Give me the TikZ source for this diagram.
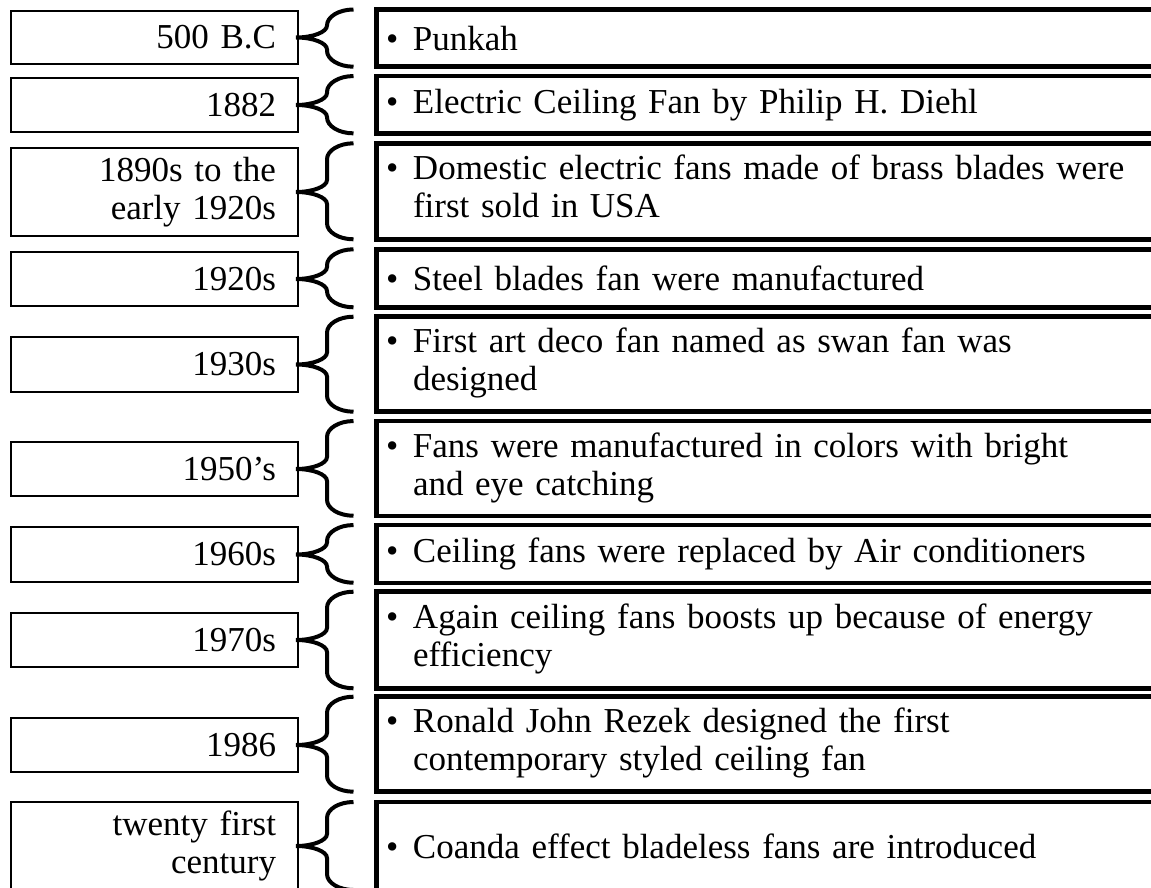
\documentclass[tikz,border=0pt]{standalone}
\usepackage{fontspec}
\setmainfont{Liberation Serif}
\usetikzlibrary{calc}
\newcommand\diagfont{\fontsize{35}{38}\selectfont}
\newcommand\itm[2]{\begin{tabular}{@{}l@{}l@{}}\makebox[25pt][l]{\hspace{-2pt}\textbullet}&#1\\ &#2\end{tabular}}
\newcommand\itmone[1]{\makebox[25pt][l]{\hspace{-2pt}\textbullet}#1}
\newcommand\brc[2]{%
 \draw[bracestyle] let \p1=(#1.east), \p2=(#2.north west), \p3=(#2.south west) in
 (\x2-23pt,\y2) .. controls (\x2-37.6pt,\y2) and (\x1+29pt,\y2-7.2pt) .. (\x1+29pt,\y2-16pt)
 -- (\x1+29pt,\y1+12pt) .. controls (\x1+29pt,\y1+5.4pt) and (\x1+15pt,\y1) .. (\x1-2pt,\y1)
 .. controls (\x1+15pt,\y1) and (\x1+29pt,\y1-5.4pt) .. (\x1+29pt,\y1-12pt)
 -- (\x1+29pt,\y3+16pt) .. controls (\x1+29pt,\y3+7.2pt) and (\x2-37.6pt,\y3) .. (\x2-23pt,\y3);}
\begin{document}
\begin{tikzpicture}[x=1pt,y=-1pt,
 lbox/.style={draw, line width=1.6pt, outer sep=0pt, inner xsep=22pt, inner ysep=0pt, text width=243pt, align=right, font=\diagfont},
 rbox/.style={draw, line width=4.5pt, outer sep=0pt, inner xsep=11.5pt, inner ysep=0pt, text width=777pt, align=left, font=\diagfont, anchor=west},
 bracestyle/.style={line width=4pt}]
\useasboundingbox (0,0) rectangle (1151,888);
\clip (0,0) rectangle (1151,888);
% left boxes
\node[lbox, minimum height=53pt] (L1) at (154.5,37.5) {500 B.C};
\node[lbox, minimum height=54pt] (L2) at (154.5,105) {1882};
\node[lbox, minimum height=88pt] (L3) at (154.5,192) {1890s to the\\early 1920s};
\node[lbox, minimum height=54pt] (L4) at (154.5,279) {1920s};
\node[lbox, minimum height=55pt] (L5) at (154.5,364.5) {1930s};
\node[lbox, minimum height=54pt] (L6) at (154.5,469) {1950’s};
\node[lbox, minimum height=55pt] (L7) at (154.5,554.5) {1960s};
\node[lbox, minimum height=54pt] (L8) at (154.5,640) {1970s};
\node[lbox, minimum height=54pt] (L9) at (154.5,745) {1986};
\node[lbox, minimum height=88pt] (L10) at (154.5,846) {twenty first\\century};
% right boxes
\node[rbox, minimum height=57.2pt] (R1) at (376.5,38.1) {\itmone{Punkah}};
\node[rbox, minimum height=57.3pt] (R2) at (376.5,104.7) {\itmone{Electric Ceiling Fan by Philip H. Diehl}};
\node[rbox, minimum height=96pt] (R3) at (376.5,191.3) {\itm{Domestic electric fans made of brass blades were}{first sold in USA}};
\node[rbox, minimum height=58pt] (R4) at (376.5,278.3) {\itmone{Steel blades fan were manufactured}};
\node[rbox, minimum height=95pt] (R5) at (376.5,364.2) {\itm{First art deco fan named as swan fan was}{designed}};
\node[rbox, minimum height=94.7pt] (R6) at (376.5,468.4) {\itm{Fans were manufactured in colors with bright}{and eye catching}};
\node[rbox, minimum height=57.7pt] (R7) at (376.5,553.9) {\itmone{Ceiling fans were replaced by Air conditioners}};
\node[rbox, minimum height=96.6pt] (R8) at (376.5,640) {\itm{Again ceiling fans boosts up because of energy}{efficiency}};
\node[rbox, minimum height=95pt] (R9) at (376.5,744.2) {\itm{Ronald John Rezek designed the first}{contemporary styled ceiling fan}};
\node[rbox, minimum height=88pt] (R10) at (376.5,846) {\itmone{Coanda effect bladeless fans are introduced}};
% braces
\brc{L1}{R1}
\brc{L2}{R2}
\brc{L3}{R3}
\brc{L4}{R4}
\brc{L5}{R5}
\brc{L6}{R6}
\brc{L7}{R7}
\brc{L8}{R8}
\brc{L9}{R9}
\brc{L10}{R10}
\end{tikzpicture}
\end{document}
